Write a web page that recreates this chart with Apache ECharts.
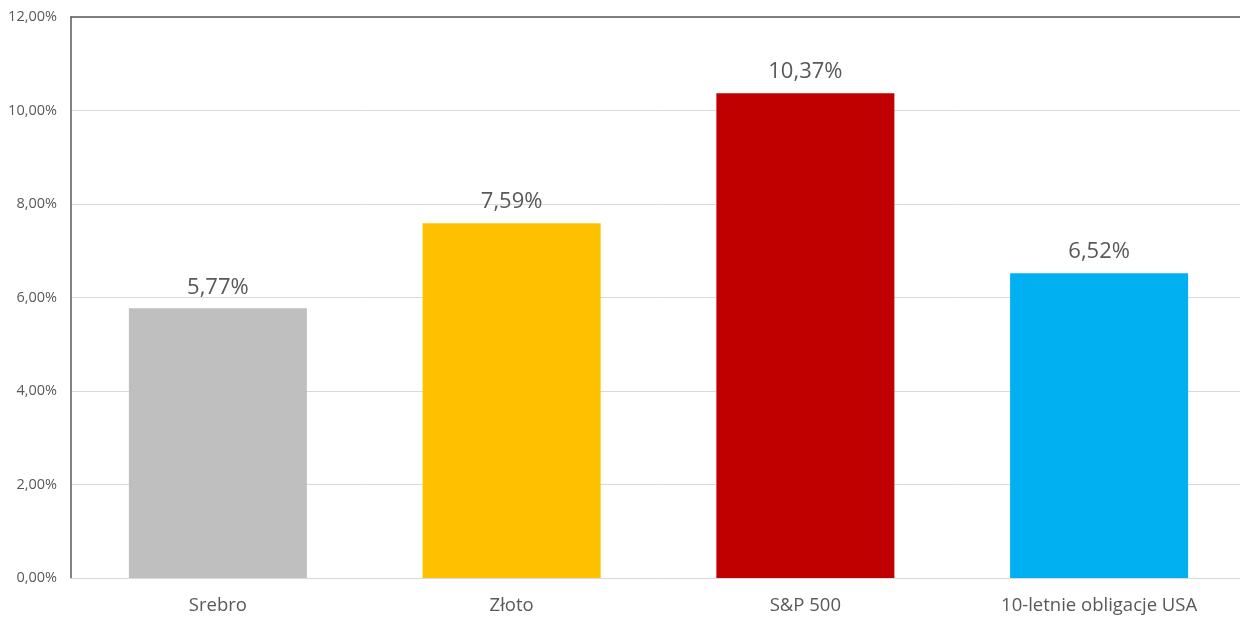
<!DOCTYPE html>
<html><head><meta charset="utf-8">
<script src="https://cdn.jsdelivr.net/npm/echarts@6/dist/echarts.min.js"></script>
<style>html,body{margin:0;padding:0;background:#fff;overflow:hidden}#c{width:1246px;height:618px}</style>
</head><body><div id="c"></div>
<script>
const categories = ['Srebro', 'Złoto', 'S&P 500', '10-letnie obligacje USA'];
const values = [5.77, 7.59, 10.37, 6.52];
const colors = ['#BFBFBF', '#FFC000', '#C00000', '#00B0F0'];
const yTicks = { min: 0, max: 12, interval: 2 };

const chart = echarts.init(document.getElementById('c'));
const fmt = v => v.toFixed(2).replace('.', ',') + '%';
chart.setOption({
  animation: false,
  textStyle: { fontFamily: 'Open Sans, Noto Sans, sans-serif' },
  grid: { left: 71, right: 0, top: 17, bottom: 40, containLabel: false },
  xAxis: [{
    type: 'category', data: categories,
    axisLine: { lineStyle: { color: '#D9D9D9', width: 1 } },
    axisTick: { show: false },
    axisLabel: { color: '#595959', fontSize: 18.5, margin: 18 }
  }, {
    type: 'category', data: categories, position: 'top',
    axisLine: { show: true, lineStyle: { color: '#595959', width: 1.5 } },
    axisTick: { show: false }, axisLabel: { show: false }
  }],
  yAxis: {
    type: 'value', min: yTicks.min, max: yTicks.max, interval: yTicks.interval,
    axisLine: { show: true, lineStyle: { color: '#595959', width: 1.5 } },
    axisTick: { show: false },
    splitLine: { lineStyle: { color: '#D9D9D9' } },
    axisLabel: { color: '#595959', fontSize: 14.5, margin: 14, formatter: v => fmt(v) }
  },
  series: [{
    type: 'bar', barWidth: '60.6%',
    data: values.map((v, i) => ({ value: v, itemStyle: { color: colors[i] } })),
    label: { show: true, position: 'top', distance: 10, color: '#595959', fontSize: 22, formatter: p => fmt(p.value) }
  }]
});
</script></body></html>
